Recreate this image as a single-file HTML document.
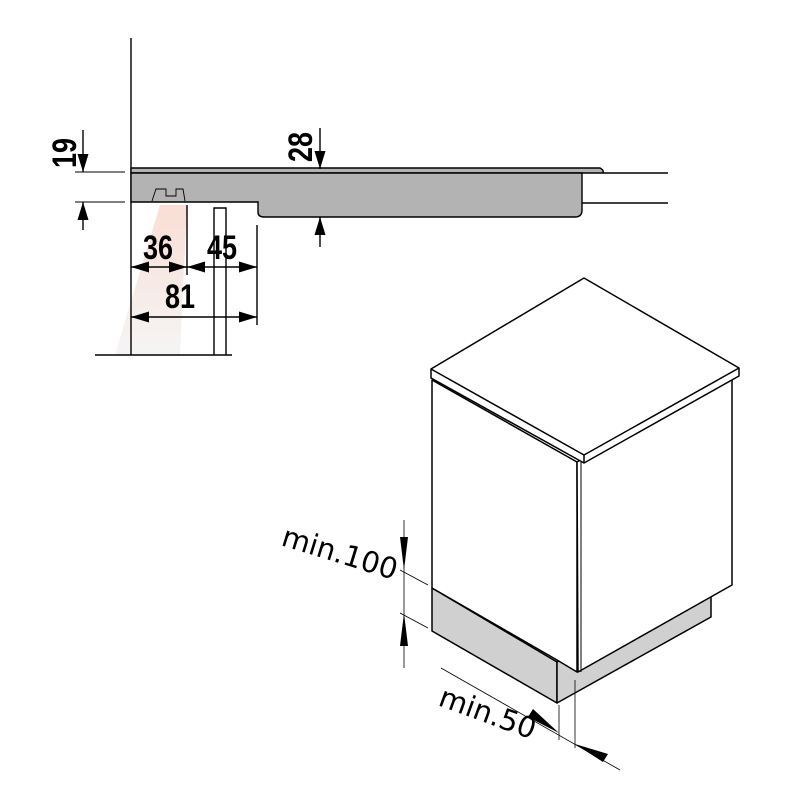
<!DOCTYPE html>
<html><head><style>body{margin:0;background:#fff}</style></head><body>
<svg width="800" height="800" viewBox="0 0 800 800" xmlns="http://www.w3.org/2000/svg">
<defs>
<linearGradient id="g" x1="0" y1="0" x2="0" y2="1"><stop offset="0" stop-color="#f6c8b8"/><stop offset="1" stop-color="#eeeeee"/></linearGradient>
<marker id="a" viewBox="0 0 18 12" refX="18" refY="6" markerWidth="18" markerHeight="12" markerUnits="userSpaceOnUse" orient="auto-start-reverse"><path d="M0,0.5 L18,6 L0,11.5z" fill="#000"/></marker>
</defs>
<g fill="none" stroke="#000" stroke-width="1.4">
<polygon points="160,205 187,205 180,355 115,355" fill="url(#g)" stroke="none" opacity="0.6"/>
<line x1="131" y1="38" x2="131" y2="355"/>
<path d="M131,168 L600,168 Q604,170 603,173 L131,173 Z" fill="#b3b3b3"/>
<path d="M131,173 L582,173 L582,210 Q582,217 575,217 L264,217 Q258,217 258,212 L258,202 L131,202 Z" fill="#b3b3b3"/>
<path d="M152,201 L156,189 L166,189 L166,196 L176,196 L176,189 L183,189 L185,201" stroke-width="0.9"/>
<line x1="603" y1="173" x2="668" y2="173"/><line x1="582" y1="203" x2="668" y2="203"/>
<line x1="75" y1="172" x2="125" y2="172" stroke-width="1"/><line x1="75" y1="202" x2="125" y2="202" stroke-width="1"/>
<line x1="83" y1="130" x2="83" y2="172" marker-end="url(#a)"/><line x1="83" y1="230" x2="83" y2="202" marker-end="url(#a)"/>
<line x1="320" y1="128" x2="320" y2="169" marker-end="url(#a)"/><line x1="320" y1="247" x2="320" y2="217" marker-end="url(#a)"/>
<line x1="187" y1="205" x2="187" y2="275"/><line x1="257" y1="225" x2="257" y2="325"/>
<path d="M214,355 L214,208 L226,208 L226,355"/>
<line x1="95" y1="355" x2="232" y2="355"/>
<line x1="131" y1="267" x2="187" y2="267" marker-start="url(#a)" marker-end="url(#a)"/>
<line x1="187" y1="267" x2="257" y2="267" marker-start="url(#a)" marker-end="url(#a)"/>
<line x1="131" y1="317" x2="257" y2="317" marker-start="url(#a)" marker-end="url(#a)"/>
</g>
<g font-family="Liberation Sans Narrow, Liberation Sans, sans-serif" font-weight="bold" font-size="30" fill="#000">
<text transform="translate(76,168) rotate(-90) scale(0.9,1.15)">19</text>
<text transform="translate(312,162) rotate(-90) scale(0.9,1.15)">28</text>
<text transform="translate(143,259) scale(0.9,1.15)">36</text>
<text transform="translate(207,259) scale(0.9,1.15)">45</text>
<text transform="translate(165,308) scale(0.9,1.15)">81</text>
</g>
<g stroke="#000" stroke-width="1.5" stroke-linejoin="round">
<polygon points="432,588 557,662 557,703 432,631" fill="#d0d0d0"/>
<polygon points="557,662 711,575 711,617 557,703" fill="#d0d0d0"/>
<polygon points="432,380 577,462 577,672 557,660 432,588" fill="#fff"/>
<polygon points="577,462 732,372 732,585 578,672" fill="#fff"/>
<line x1="581" y1="462" x2="581" y2="672" stroke-width="1"/>
<polygon points="431,369 584,278 739,368 739,376 584,463 431,378" fill="#fff"/>
<polyline points="431,369 584,455 739,368" fill="none"/>
<line x1="584" y1="455" x2="584" y2="463"/>
</g>
<g stroke="#000" stroke-width="0.8" fill="none">
<line x1="404" y1="520" x2="404" y2="668"/>
<line x1="400" y1="570" x2="428" y2="585"/><line x1="400" y1="613" x2="428" y2="628"/>
<line x1="441" y1="668" x2="620" y2="770"/>
<line x1="559" y1="705" x2="559" y2="740"/><line x1="575" y1="680" x2="575" y2="748"/>
</g>
<g fill="#000">
<path d="M400,537 L408,537 L404,570z"/><path d="M400,646 L408,646 L404,613z"/>
<path d="M528,717 L533,709 L559,733z"/><path d="M603,762 L608,754 L575,744z"/>
</g>
<g font-family="DejaVu Sans, sans-serif" font-size="29" fill="#000">
<text transform="translate(280,545) rotate(17)">min.100</text>
<text transform="translate(437,705) rotate(20)">min.50</text>
</g>
</svg>
</body></html>
